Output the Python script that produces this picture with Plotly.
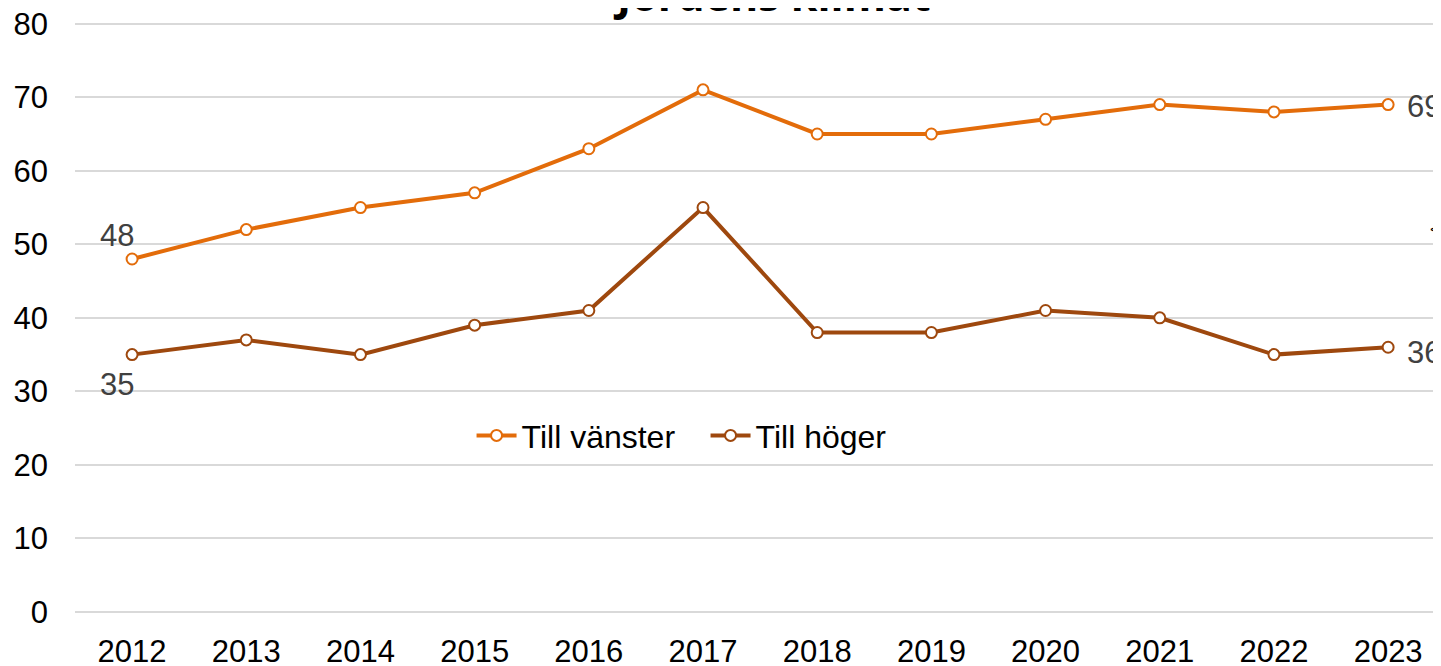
import plotly.graph_objects as go

years = ["2012", "2013", "2014", "2015", "2016", "2017", "2018", "2019", "2020", "2021", "2022", "2023"]
vanster = [48, 52, 55, 57, 63, 71, 65, 65, 67, 69, 68, 69]
hoger = [35, 37, 35, 39, 41, 55, 38, 38, 41, 40, 35, 36]
title_text = "Jordens klimat"
y_ticks = [0, 10, 20, 30, 40, 50, 60, 70, 80]

ORANGE = "#E36C0A"
BROWN = "#9E480E"
FONT = "Liberation Sans, Arial, sans-serif"
FS = 31
xs = list(range(len(years)))

fig = go.Figure()
fig.add_trace(go.Scatter(
    x=xs, y=vanster, name="Till vänster", mode="lines+markers",
    line=dict(color=ORANGE, width=4),
    marker=dict(symbol="circle", size=11, color="white", line=dict(color=ORANGE, width=2)),
    cliponaxis=False,
))
fig.add_trace(go.Scatter(
    x=xs, y=hoger, name="Till höger", mode="lines+markers",
    line=dict(color=BROWN, width=4),
    marker=dict(symbol="circle", size=11, color="white", line=dict(color=BROWN, width=2)),
    cliponaxis=False,
))

# data labels at first and last points
lab_font = dict(family=FONT, size=FS, color="#404040")
fig.add_annotation(x=xs[0], y=vanster[0], text=str(vanster[0]), showarrow=False,
                   xshift=-15, yshift=24, font=lab_font)
fig.add_annotation(x=xs[0], y=hoger[0], text=str(hoger[0]), showarrow=False,
                   xshift=-15, yshift=-30, font=lab_font)
fig.add_annotation(x=xs[-1], y=vanster[-1], text=str(vanster[-1]), showarrow=False,
                   xanchor="left", xshift=17, yshift=-2, font=lab_font)
fig.add_annotation(x=xs[-1], y=hoger[-1], text=str(hoger[-1]), showarrow=False,
                   xanchor="left", xshift=17, yshift=-5, font=lab_font)

fig.add_annotation(
    text="<b>" + title_text + "</b>", xref="paper", yref="y",
    x=0.510, y=80, yanchor="bottom", showarrow=False,
    font=dict(family="Open Sans, sans-serif", size=43, color="black"),
    yshift=-2,
)
fig.add_annotation(
    text="<", xref="paper", yref="y", x=1.0, y=52, xanchor="right", showarrow=False,
    font=dict(family=FONT, size=16, color="black"),
)

fig.update_layout(
    width=1441, height=666,
    margin=dict(l=67, r=8, t=12, b=62),
    paper_bgcolor="white", plot_bgcolor="white",
    font=dict(family=FONT, size=FS, color="black"),
    showlegend=True,
    legend=dict(orientation="h", x=0.2903, y=0.298, xanchor="left", yanchor="middle",
                font=dict(family=FONT, size=32, color="black"),
                bgcolor="rgba(0,0,0,0)", itemwidth=40,
                entrywidth=179, entrywidthmode="pixels"),
    xaxis=dict(
        range=[-0.5, 11.463], tickmode="array", tickvals=xs, ticktext=years,
        showgrid=False, zeroline=False, showline=False, ticks="",
        tickfont=dict(family=FONT, size=FS, color="black"),
        automargin=False, ticklabelstandoff=18, ticklabeloverflow="allow",
    ),
    yaxis=dict(
        range=[0, 80.5], tickmode="array", tickvals=y_ticks,
        showgrid=True, gridcolor="#D9D9D9", gridwidth=2,
        zeroline=True, zerolinecolor="#D9D9D9", zerolinewidth=2,
        showline=False, ticks="", ticklen=0,
        tickfont=dict(family=FONT, size=FS, color="black"),
        automargin=False, ticklabelstandoff=26, ticklabeloverflow="allow",
    ),
)

fig.write_html("out.html")
